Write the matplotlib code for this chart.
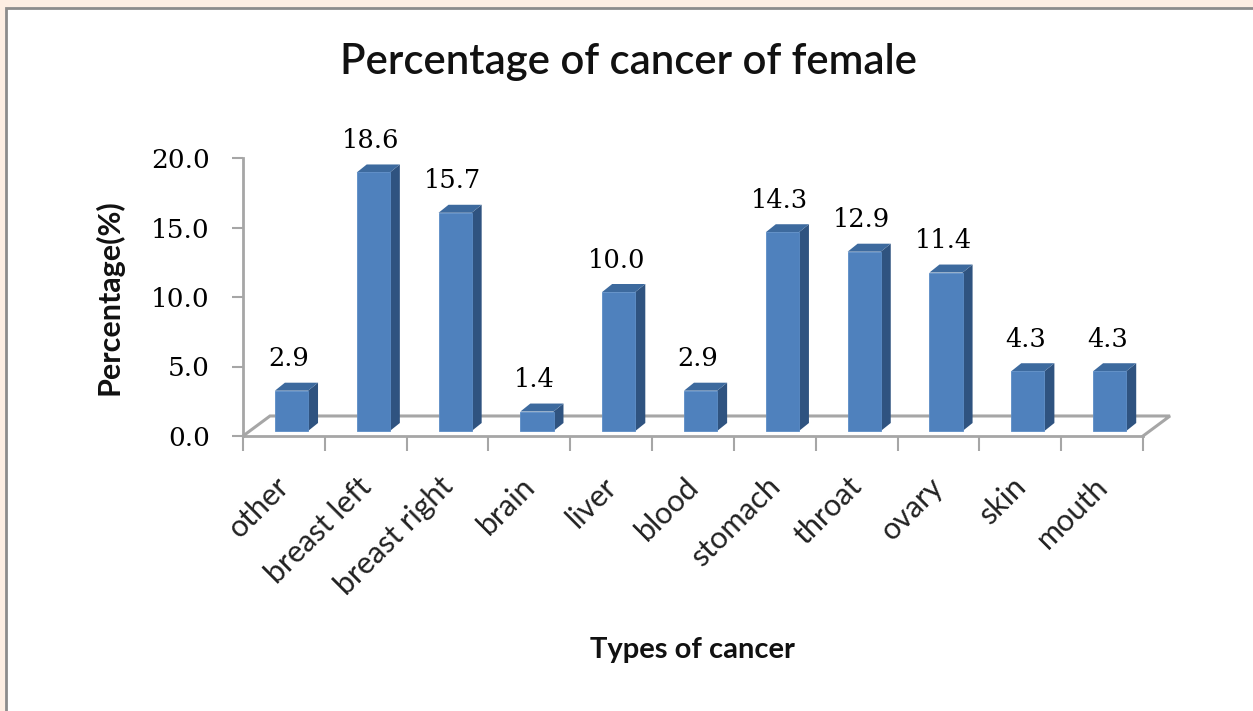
import matplotlib
matplotlib.use("Agg")
import matplotlib.pyplot as plt
from matplotlib.patches import Polygon, Rectangle

categories = ['other', 'breast left', 'breast right', 'brain', 'liver', 'blood',
              'stomach', 'throat', 'ovary', 'skin', 'mouth']
values = [2.9, 18.6, 15.7, 1.4, 10.0, 2.9, 14.3, 12.9, 11.4, 4.3, 4.3]
y_ticks = [0, 5, 10, 15, 20]

W, H = 1253, 711
fig = plt.figure(figsize=(W / 100, H / 100), dpi=100, facecolor='#fdeee3')

# white chart area with grey edge, behind the axes
fig.add_artist(Rectangle((6 / W, -0.02), 1.1, 1 + 0.02 - 8 / H, transform=fig.transFigure,
                         facecolor='white', edgecolor='#8c8c8c', linewidth=2, zorder=-1))

ax = fig.add_axes([243 / W, 1 - 436 / H, 900 / W, 278 / H])
ax.patch.set_alpha(0)
ax.set_xlim(0, len(categories))
ax.set_ylim(0, 20)
for s in ['top', 'right']:
    ax.spines[s].set_visible(False)
for s in ['left', 'bottom']:
    ax.spines[s].set_color('#a6a6a6')
    ax.spines[s].set_linewidth(2)

n = len(categories)
# floor of the fake 3d box
floor_dx, floor_dy = 0.33, 1.44
ax.plot([0, floor_dx, n + floor_dx, n], [0, floor_dy, floor_dy, 0],
        color='#a6a6a6', lw=2.2, clip_on=False, zorder=1, solid_joinstyle='miter')

front = '#4f81bd'
top = '#3d6a9e'
side = '#2f5380'
base = 0.36
bw = 0.405
dx, dy = 0.122, 0.575
for i, v in enumerate(values):
    x0 = i + 0.39
    x1 = x0 + bw
    y1 = base + v
    ax.add_patch(Polygon([(x1, base), (x1 + dx, base + dy), (x1 + dx, y1 + dy), (x1, y1)],
                         facecolor=side, edgecolor='none', clip_on=False, zorder=3))
    ax.add_patch(Polygon([(x0, y1), (x0 + dx, y1 + dy), (x1 + dx, y1 + dy), (x1, y1)],
                         facecolor=top, edgecolor='none', clip_on=False, zorder=3))
    ax.add_patch(Rectangle((x0, base), bw, v, facecolor=front, edgecolor='#5b8cc6',
                           linewidth=0.6, clip_on=False, zorder=4))
    ax.text(x0 + bw / 2 - 0.03, y1 + 2.3, f'{v:.1f}', ha='center', va='center',
            fontsize=18.5, family='DejaVu Serif', color='#000000', clip_on=False)

ax.set_yticks(y_ticks)
ax.set_yticklabels([f'{t:.1f}' for t in y_ticks], family='DejaVu Serif', fontsize=19,
                   color='#000000')
ax.set_xticks(range(n + 1))
ax.set_xticklabels([])
ax.tick_params(axis='y', length=8, width=1.5, color='#a6a6a6', pad=16)
ax.tick_params(axis='x', length=11, width=1.5, color='#a6a6a6')

# category labels, right end of the text sits under the middle of each slot
for i, c in enumerate(categories):
    ax.annotate(c, xy=(i + 0.5, 0), xytext=(-9, -36), textcoords='offset pixels',
                rotation=45, rotation_mode='anchor', ha='right', va='top',
                fontsize=22, family='Lato', color='#222222', annotation_clip=False)

fig.text(629 / W, 1 - 62 / H, 'Percentage of cancer of female', ha='center', va='center',
         fontsize=30.2, family='Lato', fontweight='semibold', color='#111111')
fig.text(692 / W, 1 - 650 / H, 'Types of cancer', ha='center', va='center',
         fontsize=21, family='Lato', fontweight='bold', color='#111111')
fig.text(109 / W, 1 - 297 / H, 'Percentage(%)', ha='center', va='center', rotation=90,
         fontsize=22, family='Lato', fontweight='bold', color='#111111')

fig.savefig('out.png', dpi=100, facecolor=fig.get_facecolor())
